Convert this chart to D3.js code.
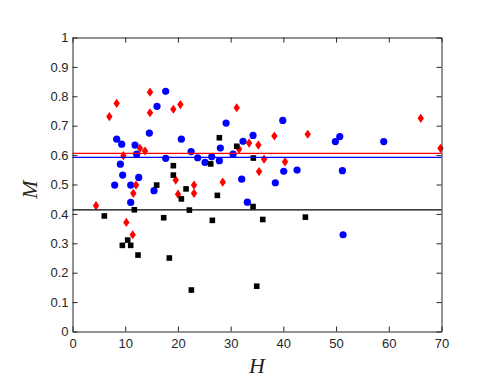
<!DOCTYPE html>
<html>
<head>
<meta charset="utf-8">
<script src="https://cdn.jsdelivr.net/npm/d3@7"></script>
<style>
  html, body { margin: 0; padding: 0; background: #fff; }
  svg { display: block; }
</style>
</head>
<body>
<svg id="chart" width="498" height="385"></svg>
<script>
// ---- data ----
const blueH = [8.0, 8.38, 9.33, 9.08, 9.52, 11.04, 11.04, 11.86, 12.18, 12.56, 14.58, 15.46, 16.03, 17.68, 17.68, 20.65, 22.5, 23.75, 25.14, 26.41, 27.86, 28.05, 29.13, 30.46, 32.1, 32.35, 33.17, 34.25, 38.48, 39.89, 40.07, 42.6, 49.87, 50.7, 51.2, 51.33, 59.05];
const blueM = [0.498, 0.654, 0.637, 0.569, 0.532, 0.498, 0.439, 0.634, 0.603, 0.524, 0.675, 0.479, 0.766, 0.817, 0.589, 0.654, 0.612, 0.591, 0.575, 0.594, 0.581, 0.624, 0.709, 0.603, 0.518, 0.647, 0.440, 0.667, 0.506, 0.718, 0.545, 0.549, 0.646, 0.663, 0.547, 0.329, 0.646];

const redH = [4.46, 6.99, 8.38, 9.65, 10.21, 11.42, 11.54, 12.05, 12.8, 13.76, 14.7, 14.7, 19.13, 19.58, 20.02, 20.46, 23.05, 23.05, 28.5, 31.15, 31.6, 33.5, 35.26, 35.39, 36.34, 38.3, 40.32, 44.62, 66.07, 69.8];
const redM = [0.428, 0.731, 0.776, 0.598, 0.371, 0.329, 0.470, 0.498, 0.623, 0.614, 0.744, 0.814, 0.756, 0.515, 0.467, 0.772, 0.498, 0.470, 0.508, 0.761, 0.620, 0.641, 0.634, 0.544, 0.586, 0.665, 0.577, 0.671, 0.725, 0.623];

const blackH = [6.04, 9.46, 10.47, 11.04, 11.73, 12.43, 15.97, 17.3, 18.37, 19.13, 19.13, 20.65, 21.54, 22.17, 22.55, 26.22, 26.53, 27.48, 27.86, 31.15, 34.3, 34.25, 34.95, 36.09, 44.18];
const blackM = [0.393, 0.293, 0.311, 0.293, 0.414, 0.260, 0.498, 0.387, 0.250, 0.564, 0.532, 0.451, 0.485, 0.413, 0.141, 0.570, 0.378, 0.463, 0.659, 0.630, 0.590, 0.425, 0.154, 0.381, 0.389];

// mean lines
const meanLines = [
  { value: 0.606, color: "#ff0000" },
  { value: 0.592, color: "#0000ff" },
  { value: 0.414, color: "#000000" }
];

const xTicks = [0, 10, 20, 30, 40, 50, 60, 70];
const yTicks = [0, 0.1, 0.2, 0.3, 0.4, 0.5, 0.6, 0.7, 0.8, 0.9, 1];
const xLabel = "H";
const yLabel = "M";

// ---- layout ----
const L = 72.5, R = 441.5, T = 37.5, B = 331.5;
const axisColor = "#262626";
const svg = d3.select("#chart");

const x = d3.scaleLinear().domain([0, 70]).range([L, R]);
const y = d3.scaleLinear().domain([0, 1]).range([B, T]);

const zip = (a, b) => a.map((v, i) => [v, b[i]]);

const g = svg.append("g");

// blue circles
g.selectAll("circle.blue").data(zip(blueH, blueM)).enter()
  .append("circle").attr("class", "blue")
  .attr("cx", d => x(d[0])).attr("cy", d => y(d[1]))
  .attr("r", 3.6).attr("fill", "#0000ff");

// red diamonds
const dw = 3.2, dh = 4.6;
g.selectAll("path.red").data(zip(redH, redM)).enter()
  .append("path").attr("class", "red")
  .attr("d", d => {
    const cx = x(d[0]), cy = y(d[1]);
    return `M${cx},${cy - dh}L${cx + dw},${cy}L${cx},${cy + dh}L${cx - dw},${cy}Z`;
  })
  .attr("fill", "#ff0000");

// black squares
const s = 5.6;
g.selectAll("rect.black").data(zip(blackH, blackM)).enter()
  .append("rect").attr("class", "black")
  .attr("x", d => x(d[0]) - s / 2).attr("y", d => y(d[1]) - s / 2)
  .attr("width", s).attr("height", s).attr("fill", "#000000");

// horizontal mean lines
g.selectAll("line.mean").data(meanLines).enter()
  .append("line").attr("class", "mean")
  .attr("x1", L).attr("x2", R)
  .attr("y1", d => y(d.value)).attr("y2", d => y(d.value))
  .attr("stroke", d => d.color).attr("stroke-width", 1.3);

// ---- axes ----
const fmt = d => (d === 0 || d === 1) ? String(d) : d3.format(".1f")(d);
const tickLen = 5;

const xAxis = d3.axisBottom(x).tickValues(xTicks).tickSizeInner(-tickLen).tickSizeOuter(0).tickPadding(7);
const xAxisTop = d3.axisTop(x).tickValues(xTicks).tickSizeInner(-tickLen).tickSizeOuter(0).tickFormat("");
const yAxis = d3.axisLeft(y).tickValues(yTicks).tickSizeInner(-tickLen).tickSizeOuter(0).tickPadding(4).tickFormat(fmt);
const yAxisRight = d3.axisRight(y).tickValues(yTicks).tickSizeInner(-tickLen).tickSizeOuter(0).tickFormat("");

function style(sel) {
  sel.select(".domain").attr("stroke", axisColor).attr("stroke-width", 1);
  sel.selectAll(".tick line").attr("stroke", axisColor).attr("stroke-width", 1);
  sel.selectAll(".tick text").attr("fill", axisColor)
    .style("font-family", "'Liberation Sans', Arial, Helvetica, sans-serif")
    .style("font-size", "13px");
}

svg.append("g").attr("transform", `translate(0,${B})`).call(xAxis).call(style);
svg.append("g").attr("transform", `translate(0,${T})`).call(xAxisTop).call(style);
svg.append("g").attr("transform", `translate(${L},0)`).call(yAxis).call(style);
svg.append("g").attr("transform", `translate(${R},0)`).call(yAxisRight).call(style);

// axis labels
svg.append("text")
  .attr("x", (L + R) / 2).attr("y", 373)
  .attr("text-anchor", "middle")
  .style("font-family", "'Liberation Serif', 'Times New Roman', serif")
  .style("font-style", "italic")
  .style("font-size", "22px")
  .attr("fill", axisColor)
  .text(xLabel);

svg.append("text")
  .attr("transform", `translate(37,${(T + B) / 2 + 5}) rotate(-90)`)
  .attr("text-anchor", "middle")
  .style("font-family", "'Liberation Serif', 'Times New Roman', serif")
  .style("font-style", "italic")
  .style("font-size", "22px")
  .attr("fill", axisColor)
  .text(yLabel);
</script>
</body>
</html>
